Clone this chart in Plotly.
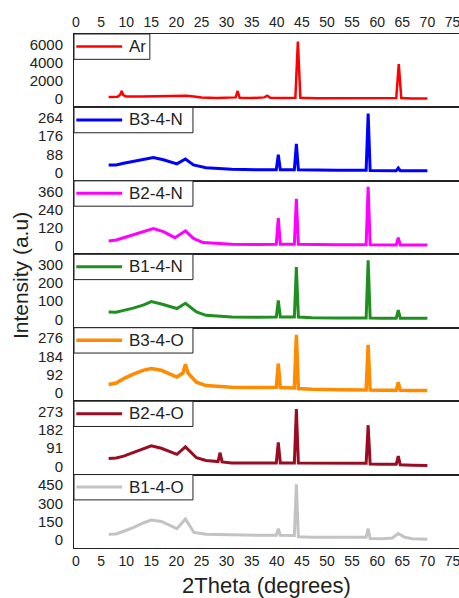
import plotly.graph_objects as go
from plotly.subplots import make_subplots

# ---------------- data ----------------
names = ["Ar", "B3-4-N", "B2-4-N", "B1-4-N", "B3-4-O", "B2-4-O", "B1-4-O"]
colors = ["#ff0000", "#0000ff", "#ff00ff", "#1f8f1f", "#ff8c00", "#9a0c22", "#c3c3c3"]
line_widths = [2.5, 3, 3, 3, 3.5, 3, 3]
y_ticks_step = [2000, 88, 120, 100, 92, 91, 150]

x_ar = [6.5, 8.3, 8.8, 9.1, 9.4, 10, 13, 16, 19, 22, 23.5, 25, 28, 31, 31.8, 32.2, 32.6,
        35, 37.5, 38.1, 38.7, 41, 43.7, 44.2, 44.7, 48, 53, 58, 63.8, 64.3, 64.8, 67, 70]
y_ar = [250, 280, 500, 900, 450, 300, 310, 320, 340, 380, 300, 180, 130, 150, 200, 900, 150,
        130, 200, 380, 160, 120, 150, 6300, 150, 110, 100, 100, 120, 3850, 120, 90, 80]

x_b34n = [6.5, 8, 9.5, 11.4, 13.5, 15.4, 17.4, 19, 20.1, 21.8, 23.4, 25.9, 31, 36, 39.9, 40.3, 40.7,
          43.5, 43.9, 44.3, 47, 52, 57.8, 58.2, 58.6, 61, 63.8, 64.2, 64.6, 67, 70]
y_b34n = [37, 37, 45, 53, 65, 73, 62, 50, 42, 66, 37, 24, 16, 14, 14, 86, 14,
          14, 138, 14, 12, 11, 11, 285, 10, 9, 9, 22, 9, 9, 9]

x_b24n = [6.5, 8, 9.5, 11.4, 13.5, 15.4, 17.4, 19.7, 21.8, 23.4, 25.3, 31, 36, 39.9, 40.3, 40.7,
          43.5, 43.9, 44.3, 47, 52, 57.8, 58.2, 58.6, 61, 63.8, 64.2, 64.6, 67, 70]
y_b24n = [34, 40, 55, 75, 100, 115, 95, 55, 100, 50, 23, 12, 11, 12, 184, 12,
          12, 310, 12, 9, 8, 8, 390, 8, 7, 7, 55, 7, 7, 7]

x_b14n = [6.5, 8, 9.5, 11.4, 13.5, 15, 17, 19, 20.1, 21.8, 24, 25.9, 31, 36, 39.9, 40.3, 40.7,
          43.5, 43.9, 44.3, 47, 52, 57.8, 58.2, 58.6, 61, 63.8, 64.2, 64.6, 67, 70]
y_b14n = [41, 40, 50, 62, 80, 98, 85, 70, 60, 89, 41, 23, 13, 12, 13, 104, 13,
          13, 287, 13, 9, 8, 8, 324, 8, 7, 7, 51, 7, 7, 7]

x_b34o = [6.5, 8, 9.5, 11.4, 13.5, 15, 17, 19, 20.1, 21.3, 21.8, 22.3, 24, 25.9, 31, 36, 39.9, 40.3, 40.7,
          43.5, 43.9, 44.3, 47, 52, 57.8, 58.2, 58.6, 61, 63.8, 64.2, 64.6, 67, 70]
y_b34o = [42, 50, 72, 95, 115, 123, 114, 95, 80, 100, 145, 100, 54, 37, 29, 27, 28, 148, 27,
          25, 293, 22, 18, 16, 15, 242, 14, 13, 13, 54, 13, 12, 12]

x_b24o = [6.5, 8, 9.5, 11.4, 13.5, 15, 17, 19, 20.1, 21.8, 24, 25.9, 28.3, 28.7, 29.1, 31, 36, 39.9, 40.3, 40.7,
          43.5, 43.9, 44.3, 47, 52, 57.8, 58.2, 58.6, 61, 63.8, 64.2, 64.6, 67, 70]
y_b24o = [39, 42, 51, 70, 90, 102, 90, 70, 60, 97, 43, 29, 24, 68, 22, 17, 16, 17, 119, 17,
          17, 285, 17, 16, 16, 15, 205, 12, 10, 10, 51, 8, 6, 4]

x_b14o = [6.5, 8, 9.5, 11.4, 13.5, 15, 17, 19, 20.1, 21.8, 23.5, 25.9, 31, 36, 39.9, 40.3, 40.7,
          43.5, 43.9, 44.3, 47, 52, 57.8, 58.2, 58.6, 61, 63, 64.2, 65.5, 67, 70]
y_b14o = [45, 48, 70, 100, 140, 162, 150, 110, 91, 170, 60, 45, 39, 37, 38, 91, 37,
          36, 456, 25, 21, 20, 20, 91, 10, 9, 15, 52, 20, 8, 5]

xs = [x_ar, x_b34n, x_b24n, x_b14n, x_b34o, x_b24o, x_b14o]
ys = [y_ar, y_b34n, y_b24n, y_b14n, y_b34o, y_b24o, y_b14o]

x_tick_vals = list(range(0, 80, 5))

# ---------------- figure ----------------
FONT = "Liberation Sans, Arial, sans-serif"
INK = "#222"
n = len(names)
fig = make_subplots(rows=n, cols=1, shared_xaxes=True, vertical_spacing=0)

# legend box geometry (fractions of each panel's domain)
box_w = [0.197 if len(nm) <= 2 else 0.309 for nm in names]
box_bottom = 0.655
sample_y = 0.83

for i in range(n):
    k = "" if i == 0 else str(i + 1)
    fig.add_trace(
        go.Scatter(x=xs[i], y=ys[i], mode="lines", name=names[i],
                   line=dict(color=colors[i], width=line_widths[i]),
                   showlegend=False),
        row=i + 1, col=1)

    step = y_ticks_step[i]
    top = 3 * step
    fig.update_yaxes(row=i + 1, col=1,
                     range=[-0.15 * top, 1.19 * top],
                     tickvals=[0, step, 2 * step, 3 * step],
                     showgrid=False, zeroline=False, automargin=False,
                     showline=True, mirror=True, linecolor=INK, linewidth=1,
                     ticks="", ticklabelstandoff=7,
                     tickfont=dict(family=FONT, size=15, color=INK))
    fig.update_xaxes(row=i + 1, col=1,
                     range=[-0.4, 76.3], tickvals=x_tick_vals,
                     showgrid=False, zeroline=False, automargin=False,
                     showline=True, mirror=True, linecolor=INK, linewidth=1,
                     ticks="", showticklabels=(i == 0 or i == n - 1),
                     ticklabeloverflow="allow",
                     tickfont=dict(family=FONT, size=14, color=INK))

    # legend: framed white box, line sample and name
    xd, yd = f"x{k} domain", f"y{k} domain"
    fig.add_shape(type="rect", xref=xd, yref=yd, x0=0, x1=box_w[i], y0=box_bottom, y1=1,
                  fillcolor="white", line=dict(color=INK, width=1), layer="above")
    fig.add_shape(type="line", xref=xd, yref=yd, x0=0.006, x1=0.125, y0=sample_y, y1=sample_y,
                  line=dict(color=colors[i], width=line_widths[i]), layer="above")
    fig.add_annotation(text=names[i], xref=xd, yref=yd, x=0.137, y=sample_y,
                       xanchor="left", yanchor="middle", showarrow=False,
                       font=dict(family=FONT, size=17, color=INK))

fig.update_xaxes(row=1, col=1, side="top")
fig.update_xaxes(row=n, col=1,
                 title=dict(text="2Theta (degrees)", standoff=13,
                            font=dict(family=FONT, size=22, color=INK)))

fig.add_annotation(text="Intensity (a.u)", xref="paper", yref="paper",
                   x=0, y=0.529, xanchor="center", yanchor="middle", xshift=-54,
                   textangle=-90, showarrow=False,
                   font=dict(family=FONT, size=21, color=INK))

fig.update_layout(width=459, height=598,
                  margin=dict(l=74, r=0, t=34, b=50),
                  plot_bgcolor="white", paper_bgcolor="white")

fig.write_html("out.html", config={"displayModeBar": False},
               post_script="document.body.style.margin='0';document.body.style.overflow='hidden';")
